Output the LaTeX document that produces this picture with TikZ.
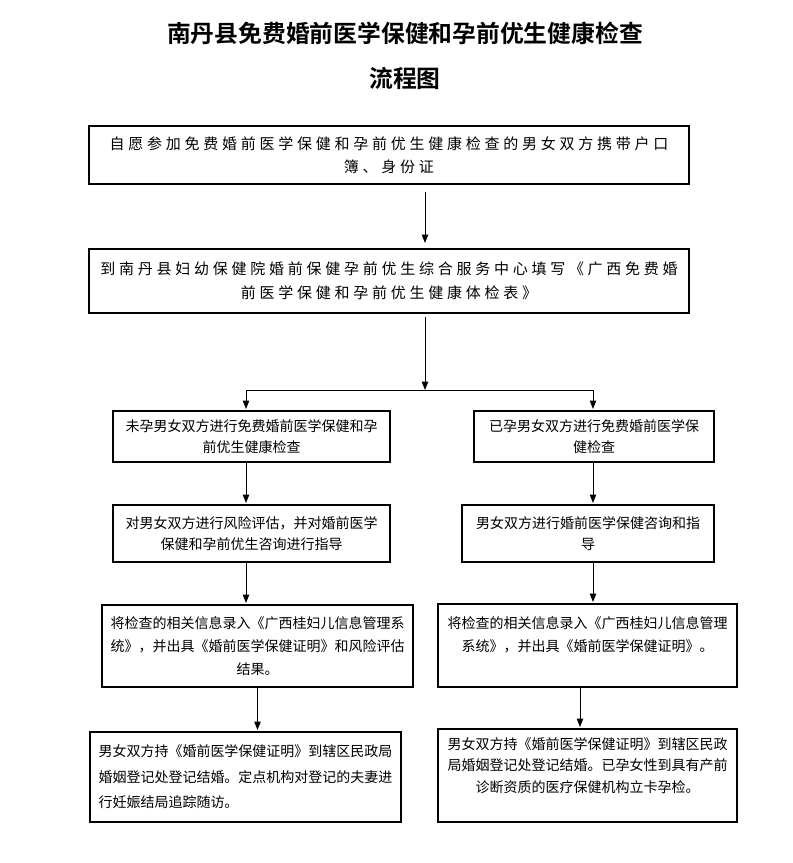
\documentclass[tikz,border=0pt]{standalone}
\usepackage{fontspec}
\usetikzlibrary{arrows.meta}
\newfontfamily\cjkfont{Noto Sans CJK SC}
\newfontfamily\cjkwide[LetterSpace=25]{Noto Sans CJK SC}
\newfontfamily\cjkbold{Noto Sans CJK SC Bold}
\begin{document}
\begin{tikzpicture}[x=1pt,y=-1pt,
  stepbox/.style={draw=black,line width=1.1pt,fill=white,inner sep=0pt,outer sep=0pt,align=center,text=black},
  widetext/.style={font=\cjkwide\fontsize{15}{23}\selectfont},
  smalltext/.style={font=\cjkfont\fontsize{14}{22}\selectfont},
  arr/.style={draw=black,line width=1pt,-{Triangle[length=8.5pt,width=6.5pt]},shorten >=2pt}]
\path[use as bounding box] (0,0) rectangle (793,863);
\path[fill=white,draw=none] (0,0) rectangle (793,863);
\node[inner sep=0pt,font=\cjkbold\fontsize{23.8}{28}\selectfont] (title) at (405,33) {南丹县免费婚前医学保健和孕前优生健康检查};
\node[inner sep=0pt,font=\cjkbold\fontsize{23.8}{28}\selectfont] (subtitle) at (405,78) {流程图};
\node[stepbox,widetext,minimum width=600,minimum height=58] (intro) at (389,155) {自愿参加免费婚前医学保健和孕前优生健康检查的男女双方携带户口\\簿、身份证};
\node[stepbox,widetext,font=\cjkwide\fontsize{15}{24}\selectfont,minimum width=600,minimum height=64] (fillform) at (389,281) {到南丹县妇幼保健院婚前保健孕前优生综合服务中心填写《广西免费婚\\前医学保健和孕前优生健康体检表》};
\node[stepbox,smalltext,font=\cjkfont\fontsize{14}{21}\selectfont,minimum width=277,minimum height=51] (check1) at (251.5,436.5) {未孕男女双方进行免费婚前医学保健和孕\\前优生健康检查};
\node[stepbox,smalltext,font=\cjkfont\fontsize{14}{21}\selectfont,minimum width=240,minimum height=51] (check2) at (594,436.5) {已孕男女双方进行免费婚前医学保\\健检查};
\node[stepbox,smalltext,font=\cjkfont\fontsize{14}{21}\selectfont,minimum width=277,minimum height=57] (advise1) at (251.5,533.5) {对男女双方进行风险评估，并对婚前医学\\保健和孕前优生咨询进行指导};
\node[stepbox,smalltext,font=\cjkfont\fontsize{14}{21}\selectfont,minimum width=252,minimum height=57] (advise2) at (588,533.5) {男女双方进行婚前医学保健咨询和指\\导};
\node[stepbox,smalltext,font=\cjkfont\fontsize{14}{23}\selectfont,minimum width=311,minimum height=82] (record1) at (257.5,646) {将检查的相关信息录入《广西桂妇儿信息管理系\\统》，并出具《婚前医学保健证明》和风险评估\\结果。};
\node[stepbox,smalltext,font=\cjkfont\fontsize{14}{23}\selectfont,minimum width=299,minimum height=83] (record2) at (587.5,645.5) {将检查的相关信息录入《广西桂妇儿信息管理\\系统》，并出具《婚前医学保健证明》。\\\mbox{}};
\node[stepbox,smalltext,font=\cjkfont\fontsize{14}{25.5}\selectfont,align=left,minimum width=311,minimum height=90] (marry1) at (245.5,777) {男女双方持《婚前医学保健证明》到辖区民政局\\婚姻登记处登记结婚。定点机构对登记的夫妻进\\行妊娠结局追踪随访。};
\node[stepbox,smalltext,font=\cjkfont\fontsize{14}{21.5}\selectfont,minimum width=299,minimum height=93] (marry2) at (587.5,775.5) {男女双方持《婚前医学保健证明》到辖区民政\\局婚姻登记处登记结婚。已孕女性到具有产前\\诊断资质的医疗保健机构立卡孕检。\\\mbox{}};
\coordinate (fork) at (425,390);
\draw[arr,shorten <=8pt,shorten >=6pt] ([xshift=36]intro.south) -- ([xshift=36]fillform.north);
\draw[arr,shorten <=4pt,shorten >=0pt] ([xshift=36]fillform.south) -- (fork);
\draw[arr] (fork) -| ([xshift=-5.5]check1.north);
\draw[arr] (fork) -| ([xshift=-1]check2.north);
\draw[arr] ([xshift=-5.5]check1.south) -- ([xshift=-5.5]advise1.north);
\draw[arr] ([xshift=-1]check2.south) -- ([xshift=-1]check2.south |- advise2.north);
\draw[arr] ([xshift=-5.5]advise1.south) -- ([xshift=-5.5]advise1.south |- record1.north);
\draw[arr] ([xshift=-1]check2.south |- advise2.south) -- ([xshift=-1]check2.south |- record2.north);
\draw[arr] (record1.south) -- (record1.south |- marry1.north);
\draw[arr] ([xshift=-7.5]record2.south) -- ([xshift=-7.5]record2.south |- marry2.north);
\end{tikzpicture}
\end{document}
